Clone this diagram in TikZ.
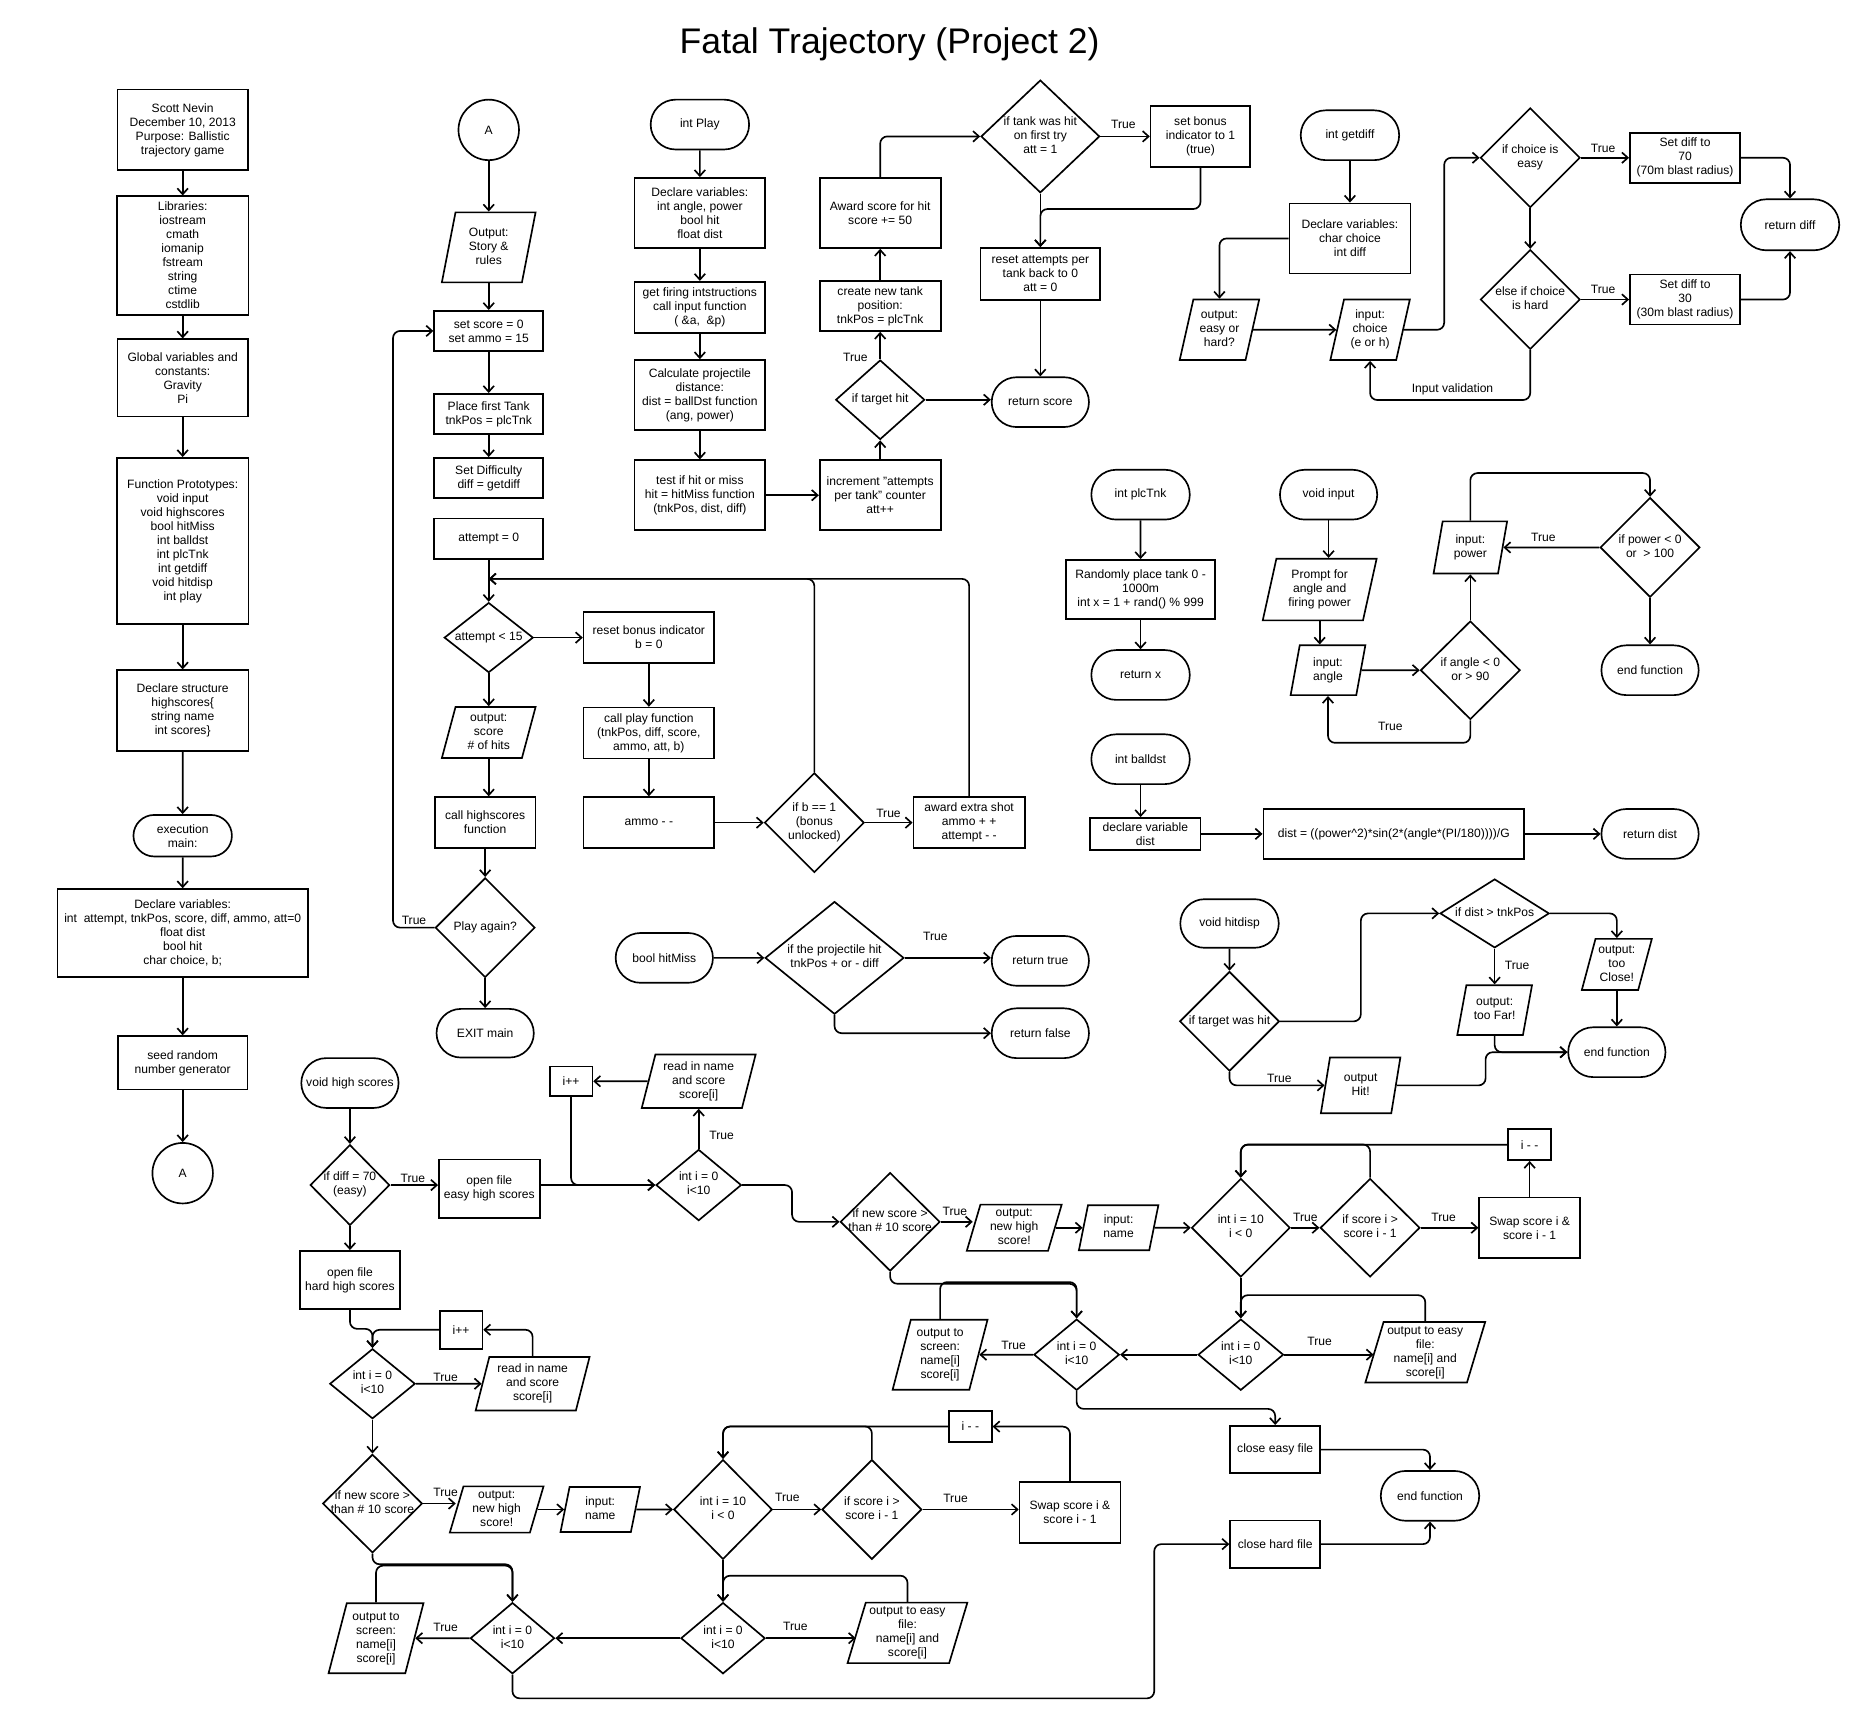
\documentclass[tikz,border=0pt]{standalone}
\usepackage{fontspec}
\setmainfont{Liberation Sans}
\usetikzlibrary{shapes.geometric,shapes.misc,arrows.meta}
\newcommand\ml[1]{\hbox to 0pt{\hss\begin{tabular}{@{}c@{}}#1\end{tabular}\hss}}
\tikzset{
  wh/.style 2 args={minimum width=#1pt,minimum height=#2pt},
  proc/.style={rectangle,draw,align=center,inner sep=1pt},
  term/.style={rounded rectangle,draw,align=center,inner sep=1pt},
  dec/.style={diamond,draw,inner sep=0pt},
  io/.style={trapezium,trapezium left angle=72,trapezium right angle=108,trapezium stretches body=true,draw,inner sep=0pt},
  conn/.style={circle,draw,minimum size=51pt},
  lbl/.style={inner sep=1pt},
  arr/.style={-{Straight Barb[length=5pt,width=9pt]},rounded corners=6pt}
}
\begin{document}
\begin{tikzpicture}[x=1pt,y=-1pt,line width=1.4pt,font=\fontsize{10.2}{11.8}\selectfont]
\useasboundingbox (0,0) rectangle (1568,1452);
\node (title) at (750,37) {\fontsize{30}{36}\selectfont Fatal Trajectory (Project 2)};

% main column
\node[proc,wh={110}{68}] (hdr) at (154,109.5) {Scott Nevin\\December 10, 2013\\Purpose: Ballistic\\trajectory game};
\node[proc,wh={111}{100}] (libs) at (154,215.5) {Libraries:\\iostream\\cmath\\iomanip\\fstream\\string\\ctime\\cstdlib};
\node[proc,wh={110}{65}] (glob) at (154,318.5) {Global variables and\\constants:\\Gravity\\Pi};
\node[proc,wh={111}{140}] (proto) at (154,456) {Function Prototypes:\\void input\\void highscores\\bool hitMiss\\int balldst\\int plcTnk\\int getdiff\\void hitdisp\\int play};
\node[proc,wh={111}{68}] (struct) at (154,599) {Declare structure\\highscores\{\\string name\\int scores\}};
\node[term,wh={85}{35}] (exec) at (154,704.5) {execution\\main:};
\node[proc,wh={211}{74}] (mvars) at (154,786.5) {Declare variables:\\int\ \ attempt, tnkPos, score, diff, ammo, att=0\\float dist\\bool hit\\char choice, b;};
\node[proc,wh={109}{45}] (seed) at (154,896) {seed random\\number generator};
\node[conn] (aout) at (154,989) {A};
\foreach \a/\b in {hdr/libs,libs/glob,glob/proto,proto/struct,struct/exec,exec/mvars,mvars/seed,seed/aout}
  \draw[arr] (\a) -- (\b);

% game loop
\node[conn] (ain) at (412,109.5) {A};
\node[io,wh={79}{59}] (story) at (412,208.5) {\ml{Output:\\Story \&\\rules}};
\node[proc,wh={92}{34}] (setsc) at (412,279) {set score = 0\\set ammo = 15};
\node[proc,wh={92}{34}] (place) at (412,349) {Place first Tank\\tnkPos = plcTnk};
\node[proc,wh={92}{34}] (setdiff) at (412,403) {Set Difficulty\\diff = getdiff};
\node[proc,wh={92}{34}] (att0) at (412,454) {attempt = 0};
\node[dec,wh={75}{59}] (attlt) at (412,537.5) {\ml{attempt < 15}};
\node[io,wh={79}{43}] (outsc) at (412,617.5) {\ml{output:\\score\\\# of hits}};
\node[proc,wh={85}{43}] (callhs) at (409,693.5) {call highscores\\function};
\node[dec,wh={84}{84}] (again) at (409,782) {\ml{Play again?}};
\node[term,wh={84}{41}] (exit) at (409,871) {EXIT main};
\node[proc,wh={110}{43}] (rbonus) at (547,537.5) {reset bonus indicator\\b = 0};
\node[proc,wh={110}{43}] (callp) at (547,618) {call play function\\(tnkPos, diff, score,\\ammo, att, b)};
\node[proc,wh={110}{43}] (ammo) at (547,693.5) {ammo - -};
\node[dec,wh={84}{84}] (ifb) at (686.5,693.5) {\ml{if b == 1\\(bonus\\unlocked)}};
\node[proc,wh={94}{43}] (award) at (817,693.5) {award extra shot\\ammo + +\\attempt - -};
\coordinate (loopin) at (412,488);
\foreach \a/\b in {ain/story,story/setsc,setsc/place,place/setdiff,att0/attlt,attlt/outsc,callhs/again,again/exit,attlt/rbonus,rbonus/callp,callp/ammo,ammo/ifb,ifb/award}
  \draw[arr] (\a) -- (\b);
\draw[arr] (outsc.south) -- (outsc.south |- callhs.north);
\draw[arr] (ifb.north) |- (loopin);
\draw[arr] (award.north) |- (loopin);
\draw[arr] (again.west) -- ++(-35,0) |- (setsc.west);

% int Play
\node[term,wh={85}{42}] (play) at (590,105) {int Play};
\node[proc,wh={110}{59}] (pvars) at (590,179.5) {Declare variables:\\int angle, power\\bool hit\\float dist};
\node[proc,wh={110}{43}] (fire) at (590,259) {get firing intstructions\\call input function\\( \&a,\ \ \&p)};
\node[proc,wh={110}{59}] (calc) at (590,333) {Calculate projectile\\distance:\\dist = ballDst function\\(ang, power)};
\node[proc,wh={110}{59}] (test) at (590,417.5) {test if hit or miss\\hit = hitMiss function\\(tnkPos, dist, diff)};
\node[proc,wh={102}{59}] (incr) at (742,417.5) {increment "attempts\\per tank" counter\\att++};
\node[dec,wh={75}{67}] (tgt) at (742,337) {\ml{if target hit}};
\node[proc,wh={102}{42}] (newtank) at (742,258) {create new tank\\position:\\tnkPos = plcTnk};
\node[proc,wh={102}{59}] (award50) at (742,179.5) {Award score for hit\\score += 50};
\node[dec,wh={100}{95}] (first) at (877,115) {\ml{if tank was hit\\on first try\\att = 1}};
\node[proc,wh={84}{51}] (bonus1) at (1012,115) {set bonus\\indicator to 1\\(true)};
\node[proc,wh={101}{44}] (rstatt) at (877,231) {reset attempts per\\tank back to 0\\att = 0};
\node[term,wh={84}{42}] (retsc) at (877,339) {return score};
\foreach \a/\b in {play/pvars,pvars/fire,fire/calc,calc/test,test/incr,incr/tgt,tgt/newtank,newtank/award50,first/bonus1,first/rstatt,rstatt/retsc}
  \draw[arr] (\a) -- (\b);
\draw[arr] (award50.north) |- (first.west);
\draw[arr] (bonus1.south) -- ++(0,35) -| (rstatt.north);
\draw[arr] (tgt.east) -- (tgt.east -| retsc.west);

% int getdiff
\node[term,wh={85}{42}] (gd) at (1138,114) {int getdiff};
\node[proc,wh={102}{59}] (gvars) at (1138,201) {Declare variables:\\char choice\\int diff};
\node[io,wh={67}{51}] (eorh) at (1028,278) {\ml{output:\\easy or\\hard?}};
\node[io,wh={67}{51}] (choice) at (1155,278) {\ml{input:\\choice\\(e or h)}};
\node[dec,wh={84}{84}] (easy) at (1290,133) {\ml{if choice is\\easy}};
\node[dec,wh={84}{84}] (hard) at (1290,252.5) {\ml{else if choice\\is hard}};
\node[proc,wh={93}{42}] (d70) at (1420.5,133) {Set diff to\\70\\(70m blast radius)};
\node[proc,wh={93}{42}] (d30) at (1420.5,252.5) {Set diff to\\30\\(30m blast radius)};
\node[term,wh={85}{43}] (retd) at (1509,189.5) {return diff};
\node[lbl] (ival) at (1224.5,328) {Input validation};
\foreach \a/\b in {gd/gvars,eorh/choice,easy/hard,easy/d70,hard/d30}
  \draw[arr] (\a) -- (\b);
\draw[arr] (gvars.west) -| (eorh.north);
\draw[arr] (choice.east) -- ++(34,0) |- (easy.west);
\draw[arr] (d70.east) -| (retd.north);
\draw[arr] (d30.east) -| (retd.south);
\draw[arr] (hard.south) -- ++(0,42) -| (choice.south);

% int plcTnk, int balldst
\node[term,wh={85}{42}] (plc) at (961.5,417) {int plcTnk};
\node[proc,wh={126}{50}] (rand) at (961.5,497) {Randomly place tank 0 -\\1000m\\int x = 1 + rand() \% 999};
\node[term,wh={85}{42}] (retx) at (961.5,569) {return x};
\node[term,wh={85}{42}] (bd) at (961.5,640) {int balldst};
\node[proc,wh={93}{27}] (dvar) at (965.5,703) {declare variable\\dist};
\node[proc,wh={220}{42}] (formula) at (1175,703) {dist = ((power\textasciicircum 2)*sin(2*(angle*(PI/180))))/G};
\node[term,wh={84}{42}] (retdist) at (1391,703) {return dist};
\foreach \a/\b in {plc/rand,rand/retx,dvar/formula,formula/retdist}
  \draw[arr] (\a) -- (\b);
\draw[arr] (bd.south) -- (bd.south |- dvar.north);

% void input
\node[term,wh={84}{42}] (vin) at (1120,417) {void input};
\node[io,wh={96}{52}] (prompt) at (1112.5,497) {\ml{Prompt for\\angle and\\firing power}};
\node[io,wh={63}{42}] (inang) at (1119.5,565) {\ml{input:\\angle}};
\node[dec,wh={84}{83}] (angchk) at (1239.5,565) {\ml{if angle < 0\\or > 90}};
\node[io,wh={62}{44}] (inpow) at (1239.5,461.5) {\ml{input:\\power}};
\node[dec,wh={84}{84}] (powchk) at (1391,461.5) {\ml{if power < 0\\or\ \ > 100}};
\node[term,wh={84}{42}] (endin) at (1391,565) {end function};
\foreach \a/\b in {inang/angchk,angchk/inpow,powchk/inpow,powchk/endin}
  \draw[arr] (\a) -- (\b);
\draw[arr] (vin.south) -- (vin.south |- prompt.north);
\draw[arr] (prompt.south) -- (prompt.south |- inang.north);
\draw[arr] (angchk.south) -- ++(0,19) -| (inang.south);
\draw[arr] (inpow.north) -- ++(0,-40) -| (powchk.north);

% bool hitMiss
\node[term,wh={84}{42}] (hm) at (560,807.5) {bool hitMiss};
\node[dec,wh={117}{95}] (proj) at (703.5,807.5) {\ml{if the projectile hit\\tnkPos + or - diff}};
\node[term,wh={84}{42}] (rtrue) at (877,810) {return true};
\node[term,wh={84}{42}] (rfalse) at (877,871) {return false};
\draw[arr] (hm) -- (proj);
\draw[arr] (proj.east) -- (proj.east -| rtrue.west);
\draw[arr] (proj.south) |- (rfalse.west);

% void hitdisp
\node[term,wh={85}{41}] (hd) at (1036.5,778.5) {void hitdisp};
\node[dec,wh={84}{84}] (washit) at (1036.5,861) {\ml{if target was hit}};
\node[dec,wh={92}{58}] (far) at (1260,770) {\ml{if dist > tnkPos}};
\node[io,wh={59}{43}] (close) at (1363,813) {\ml{output:\\too\\Close!}};
\node[io,wh={63}{42}] (toofar) at (1260,851.5) {\ml{output:\\too Far!}};
\node[term,wh={84}{42}] (endhd) at (1363,887) {end function};
\node[io,wh={67}{47}] (hit) at (1147,915) {\ml{output\\Hit!}};
\foreach \a/\b in {hd/washit,far/toofar,close/endhd}
  \draw[arr] (\a) -- (\b);
\draw[arr] (washit.east) -- ++(68,0) |- (far.west);
\draw[arr] (far.east) -| (close.north);
\draw[arr] (toofar.south) |- (endhd.west);
\draw[arr] (washit.south) |- (hit.west);
\draw[arr] (hit.east) -- ++(75,0) |- (endhd.west);

% void high scores
\node[term,wh={84}{42}] (vhs) at (295,913) {void high scores};
\node[dec,wh={67}{68}] (d70chk) at (295,999) {\ml{if diff = 70\\(easy)}};
\node[proc,wh={85}{49}] (opeasy) at (412.5,1002) {open file\\easy high scores};
\node[proc,wh={84}{49}] (ophard) at (295,1079) {open file\\hard high scores};
\draw[arr] (vhs) -- (d70chk);
\draw[arr] (d70chk) -- (ophard);
\draw[arr] (d70chk.east) -- (d70chk.east -| opeasy.west);

% hard file
\node[proc,wh={36}{32}] (hinc) at (388.7,1121) {i++};
\node[dec,wh={72}{59}] (hloop) at (314,1166.5) {\ml{int i = 0\\i<10}};
\node[io,wh={96}{45}] (hread) at (449,1166.5) {\ml{read in name\\and score\\score[i]}};
\node[dec,wh={84}{83}] (hnew) at (314,1267.5) {\ml{if new score >\\than \# 10 score}};
\node[io,wh={79}{39}] (hnhs) at (418.7,1272.5) {\ml{output:\\new high\\score!}};
\node[io,wh={67}{38}] (hname) at (506,1272.5) {\ml{input:\\name}};
\node[dec,wh={83}{84}] (hsort) at (609.5,1272.5) {\ml{int i = 10\\i < 0}};
\node[dec,wh={84}{84}] (hcmp) at (735,1272.5) {\ml{if score i >\\score i - 1}};
\node[proc,wh={85}{51}] (hswap) at (902,1275) {Swap score i \&\\score i - 1};
\node[proc,wh={36}{26}] (hdec) at (818,1202.6) {i - -};
\node[dec,wh={71}{60}] (hout) at (609.5,1381) {\ml{int i = 0\\i<10}};
\node[io,wh={101}{51}] (hfile) at (765,1376.5) {\ml{output to easy\\file:\\name[i] and\\score[i]}};
\node[dec,wh={71}{60}] (hshow) at (432,1381) {\ml{int i = 0\\i<10}};
\node[io,wh={80}{59}] (hscr) at (317,1381) {\ml{output to\\screen:\\name[i]\\score[i]}};
\foreach \a/\b in {hloop/hread,hloop/hnew,hnhs/hname,hname/hsort,hsort/hcmp,hsort/hout,hout/hshow,hshow/hscr}
  \draw[arr] (\a) -- (\b);
\draw[arr] (hread.north) |- (hinc.east);
\draw[arr] (hinc.west) -| (hloop.north);
\draw[arr] (ophard.south) -- ++(0,16) -| (hloop.north);
\draw[arr] (hnew.east) -- (hnew.east -| hnhs.west);
\draw[arr] (hcmp.east) -- (hcmp.east -| hswap.west);
\draw[arr] (hswap.north) |- (hdec.east);
\draw[arr] (hdec.west) -| (hsort.north);
\draw[arr] (hcmp.north) -- ++(0,-27.4) -| (hsort.north);
\draw[arr] (hout.east) -- (hout.east -| hfile.west);
\draw[arr] (hfile.north) -- ++(0,-22) -| (hout.north);
\draw[arr] (hscr.north) -- ++(0,-31) -| (hshow.north);
\draw[arr] (hnew.south) -- ++(0,9) -| (hshow.north);

% easy file
\node[proc,wh={36}{25}] (einc) at (481.4,911.5) {i++};
\node[io,wh={96}{45}] (eread) at (589,911.5) {\ml{read in name\\and score\\score[i]}};
\node[dec,wh={72}{60}] (eloop) at (589,999) {\ml{int i = 0\\i<10}};
\node[dec,wh={84}{83}] (enew) at (750.4,1030) {\ml{if new score >\\than \# 10 score}};
\node[io,wh={80}{39}] (enhs) at (855,1035) {\ml{output:\\new high\\score!}};
\node[io,wh={67}{38}] (ename) at (943,1035) {\ml{input:\\name}};
\node[dec,wh={83}{83}] (esort) at (1046,1035) {\ml{int i = 10\\i < 0}};
\node[dec,wh={84}{83}] (ecmp) at (1155,1035) {\ml{if score i >\\score i - 1}};
\node[proc,wh={85}{51}] (eswap) at (1289.5,1035) {Swap score i \&\\score i - 1};
\node[proc,wh={36}{26}] (edec) at (1289.5,965) {i - -};
\node[dec,wh={72}{60}] (eout) at (1046,1142) {\ml{int i = 0\\i<10}};
\node[io,wh={101}{51}] (efile) at (1201.5,1140) {\ml{output to easy\\file:\\name[i] and\\score[i]}};
\node[dec,wh={72}{60}] (eshow) at (907.6,1142) {\ml{int i = 0\\i<10}};
\node[io,wh={80}{59}] (escr) at (792.5,1142) {\ml{output to\\screen:\\name[i]\\score[i]}};
\node[proc,wh={76}{40}] (cleasy) at (1075,1222) {close easy file};
\node[proc,wh={76}{40}] (clhard) at (1075,1301.7) {close hard file};
\node[term,wh={85}{42}] (endhs) at (1205.5,1261) {end function};
\foreach \a/\b in {eloop/eread,eread/einc,ename/esort,esort/ecmp,ecmp/eswap,eswap/edec,esort/eout,eout/eshow,eshow/escr}
  \draw[arr] (\a) -- (\b);
\draw[arr] (opeasy.east |- eloop.west) -- (eloop.west);
\draw[arr] (einc.south) |- (eloop.west);
\draw[arr] (eloop.east) -- ++(42,0) |- (enew.west);
\draw[arr] (enew.east) -- (enew.east -| enhs.west);
\draw[arr] (enhs.east) -- (enhs.east -| ename.west);
\draw[arr] (edec.west) -| (esort.north);
\draw[arr] (ecmp.north) -- ++(0,-28) -| (esort.north);
\draw[arr] (eout.east) -- (eout.east -| efile.west);
\draw[arr] (efile.north) -- ++(0,-22) -| (eout.north);
\draw[arr] (escr.north) -- ++(0,-31) -| (eshow.north);
\draw[arr] (enew.south) -- ++(0,10) -| (eshow.north);
\draw[arr] (eshow.south) -- ++(0,15) -| (cleasy.north);
\draw[arr] (hshow.south) -- ++(0,20) -- ++(541,0) |- (clhard.west);
\draw[arr] (cleasy.east) -| (endhs.north);
\draw[arr] (clhard.east) -| (endhs.south);

% True labels
\foreach \x/\y/\n in {349/776/a,749/686/b,721/301/c,947/105/d,1351.5/125/e,1351.5/244/f,1172/612.5/g,1301/453/h,788.5/789.6/i,1279/813.6/j,1078.5/909/k,348/993/l,375.7/1161/m,375.7/1258/n,663.8/1262/o,805.5/1263/p,670.5/1371/q,375.7/1372/r,608.4/957.5/s,805/1021/t,1100.4/1026/u,1217/1026/v,1112.5/1131/w,854.5/1134/x}
  \node[lbl] (t\n) at (\x,\y) {True};
\end{tikzpicture}
\end{document}
